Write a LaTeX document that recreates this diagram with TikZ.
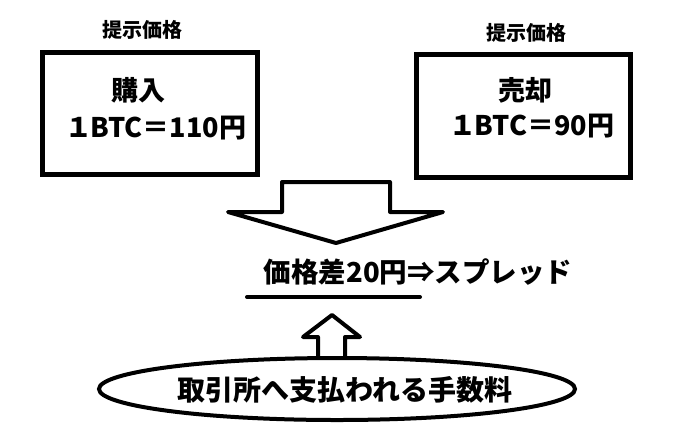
\documentclass[tikz,border=0pt]{standalone}
\usepackage{fontspec}
\setmainfont{Noto Sans CJK JP}
\usetikzlibrary{shapes.geometric}
\tikzset{
  pricebox/.style={draw, line width=5pt, minimum width=215pt, minimum height=122pt, inner sep=0pt},
  lbl/.style={font=\fontsize{20}{20}\selectfont\bfseries, inner sep=0pt},
  big/.style={font=\fontsize{27}{27}\selectfont\bfseries, inner sep=0pt},
  blockarrow/.style={draw, line width=4pt, line join=round},
  feeell/.style={draw, ellipse, line width=4pt, minimum width=476pt, minimum height=62pt, inner sep=0pt}
}
\begin{document}
\begin{tikzpicture}[x=1pt,y=-1pt]
\useasboundingbox[fill=white] (0,0) rectangle (684,437);
% boxes
\node[pricebox] (buybox) at (150,113.5) {};
\node[pricebox, minimum width=214pt, minimum height=123pt] (sellbox) at (523.5,116) {};
\node[lbl] (buylbl) at (142,30) {提示価格};
\node[lbl] (selllbl) at (526,33) {提示価格};
\node[big] (buy) at (138,90) {購入};
\node[big] (buyprice) at (156,128) {１\kern-2pt BTC＝110円};
\node[big] (sell) at (525,90) {売却};
\node[big] (sellprice) at (532,126) {１\kern-2pt BTC＝90円};
% down block arrow
\draw[blockarrow] (282,182) -- (390,182) -- (390,212) -- (443,212) -- (336,243) -- (228,212) -- (282,212) -- cycle;
% spread text
\node[big, font=\fontsize{27.5}{27.5}\selectfont\bfseries] (spread) at (418,272) {価格差20円⇒スプレッド};
\coordinate (ulA) at (247,297);
\coordinate (ulB) at (420,297);
\draw[line width=4pt, line cap=round] (ulA) -- (ulB);
% ellipse
\node[feeell] (fee) at (337,389) {};
\node[big, font=\fontsize{28}{28}\selectfont\bfseries] (feetext) at (345,390) {取引所へ支払われる手数料};
% up block arrow
\draw[blockarrow] (318,357) -- (318,337) -- (303,337) -- (332,315) -- (360,337) -- (345,337) -- (345,357);
\end{tikzpicture}
\end{document}
